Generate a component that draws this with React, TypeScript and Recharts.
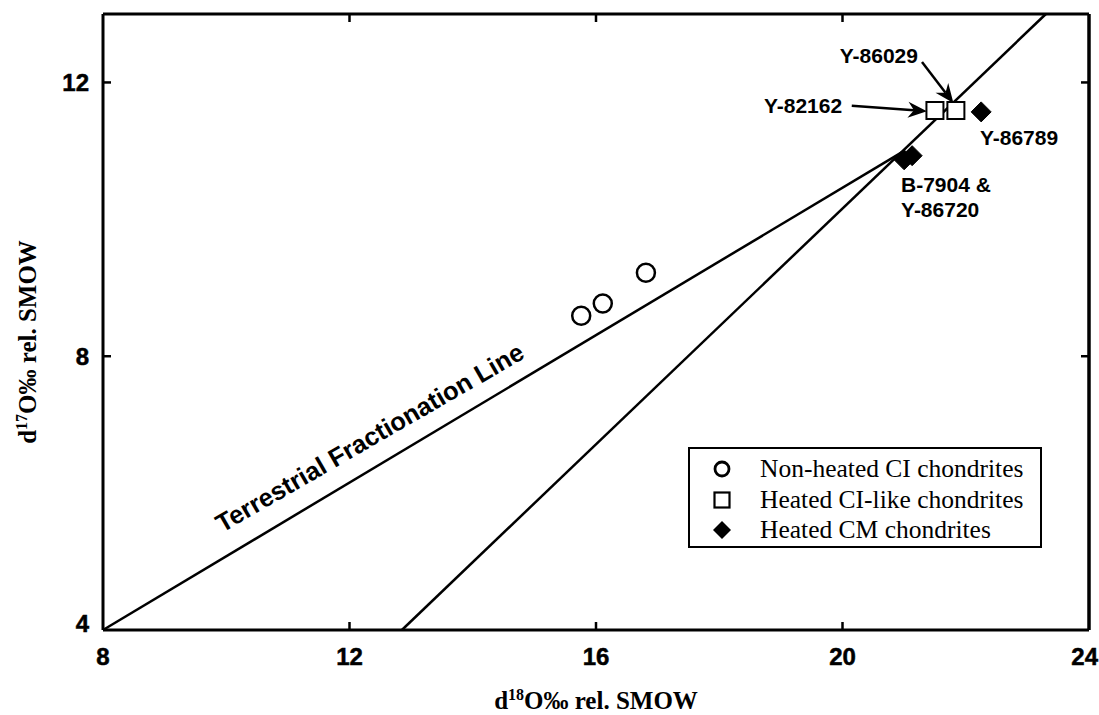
import React from 'react';
import { ScatterChart, Scatter, XAxis, YAxis, ReferenceLine } from 'recharts';

const xTicks = [8, 12, 16, 20, 24];
const yTicks = [4, 8, 12];
const xInnerTicks = [12, 16, 20];
const yInnerTicks = [8, 12];

const nonHeatedCI = [
  { x: 15.76, y: 8.59 },
  { x: 16.11, y: 8.77 },
  { x: 16.81, y: 9.22 },
];
const heatedCILike = [
  { x: 21.5, y: 11.59 },
  { x: 21.84, y: 11.59 },
];
const heatedCM = [
  { x: 21.0, y: 10.87 },
  { x: 21.13, y: 10.93 },
  { x: 22.25, y: 11.57 },
];

const tflLine = [
  { x: 8, y: 4 },
  { x: 21.0, y: 11.0 },
];
const steepLine = [
  { x: 12.85, y: 4 },
  { x: 23.3, y: 13 },
];

const sampleLabels = [
  { x: 20.59, y: 12.39, text: 'Y-86029', anchor: 'middle' },
  { x: 19.36, y: 11.66, text: 'Y-82162', anchor: 'middle' },
  { x: 22.23, y: 11.19, text: 'Y-86789', anchor: 'start' },
  { x: 20.95, y: 10.51, text: 'B-7904 &', anchor: 'start' },
  { x: 20.95, y: 10.14, text: 'Y-86720', anchor: 'start' },
];

const arrows = [
  { from: { x: 21.29, y: 12.3 }, to: { x: 21.8, y: 11.7 } },
  { from: { x: 20.15, y: 11.66 }, to: { x: 21.37, y: 11.58 } },
];

const tflLabel = [{ x: 12.4, y: 6.7, text: 'Terrestrial Fractionation Line' }];

const legendItems = [
  { name: 'Non-heated CI chondrites', marker: 'circle' },
  { name: 'Heated CI-like chondrites', marker: 'square' },
  { name: 'Heated CM chondrites', marker: 'diamond' },
];

const SANS = '"Liberation Sans", Arial, sans-serif';
const SERIF = '"Liberation Serif", "Times New Roman", serif';

const BottomTick = (props: any) => {
  const { x, y, payload } = props;
  const v = payload.value;
  const isLast = v === xTicks[xTicks.length - 1];
  return (
    <g>
      {xInnerTicks.includes(v) && (
        <line x1={x} x2={x} y1={y} y2={y - 8} stroke="#000" strokeWidth={2.5} />
      )}
      <text
        x={isLast ? x + 9 : x}
        y={y + 35}
        textAnchor={isLast ? 'end' : 'middle'}
        fontFamily={SANS}
        fontWeight="bold"
        fontSize={24}
        fill="#000"
        stroke="#000"
        strokeWidth={0.5}
      >
        {v}
      </text>
    </g>
  );
};

const TopTick = (props: any) => {
  const { x, y, payload } = props;
  if (!xInnerTicks.includes(payload.value)) return <g />;
  return <line x1={x} x2={x} y1={y} y2={y + 8} stroke="#000" strokeWidth={2.5} />;
};

const LeftTick = (props: any) => {
  const { x, y, payload } = props;
  const v = payload.value;
  const dy = v === 4 ? -7 : 0;
  return (
    <g>
      {yInnerTicks.includes(v) && (
        <line x1={x} x2={x + 8} y1={y} y2={y} stroke="#000" strokeWidth={2.5} />
      )}
      <text
        x={x - 14}
        y={y + dy + 8.5}
        textAnchor="end"
        fontFamily={SANS}
        fontWeight="bold"
        fontSize={24}
        fill="#000"
        stroke="#000"
        strokeWidth={0.5}
      >
        {v}
      </text>
    </g>
  );
};

const RightTick = (props: any) => {
  const { x, y, payload } = props;
  if (!yInnerTicks.includes(payload.value)) return <g />;
  return <line x1={x} x2={x - 8} y1={y} y2={y} stroke="#000" strokeWidth={2.5} />;
};

const CircleShape = (p: any) => (
  <circle cx={p.cx} cy={p.cy} r={9} fill="#fff" stroke="#000" strokeWidth={2.5} />
);
const SquareShape = (p: any) => (
  <rect x={p.cx - 8.5} y={p.cy - 8.5} width={17} height={17} fill="#fff" stroke="#000" strokeWidth={2} />
);
const DiamondShape = (p: any) => (
  <polygon
    points={`${p.cx},${p.cy - 10} ${p.cx + 10},${p.cy} ${p.cx},${p.cy + 10} ${p.cx - 10},${p.cy}`}
    fill="#000"
    stroke="#000"
    strokeWidth={1}
  />
);

const LabelShape = (p: any) => (
  <text
    x={p.cx}
    y={p.cy}
    textAnchor={p.payload.anchor}
    dominantBaseline="central"
    fontFamily={SANS}
    fontWeight="bold"
    fontSize={21}
    fill="#000"
  >
    {p.payload.text}
  </text>
);

const TflLabelShape = (p: any) => (
  <text
    x={p.cx}
    y={p.cy}
    textAnchor="middle"
    transform={`rotate(-30, ${p.cx}, ${p.cy})`}
    fontFamily={SANS}
    fontWeight="bold"
    fontSize={25.5}
    fill="#000"
  >
    {p.payload.text}
  </text>
);

const ArrowShape = (p: any) => {
  const { x1, y1, x2, y2 } = p;
  const dx = x2 - x1;
  const dy = y2 - y1;
  const len = Math.sqrt(dx * dx + dy * dy) || 1;
  const ux = dx / len;
  const uy = dy / len;
  const nx = -uy;
  const ny = ux;
  const L = 19;
  const W = 8;
  const bx = x2 - ux * L;
  const by = y2 - uy * L;
  const mx = x2 - ux * (L - 6);
  const my = y2 - uy * (L - 6);
  return (
    <g>
      <line x1={x1} y1={y1} x2={mx} y2={my} stroke="#000" strokeWidth={2.5} />
      <polygon
        points={`${x2},${y2} ${bx + nx * W},${by + ny * W} ${mx},${my} ${bx - nx * W},${by - ny * W}`}
        fill="#000"
      />
    </g>
  );
};

const XTitle = (props: any) => {
  const vb = props.viewBox || { x: 103, y: 630, width: 986 };
  return (
    <text x={vb.x + vb.width / 2} y={vb.y + 79} textAnchor="middle" fontFamily={SERIF} fontWeight="bold" fontSize={25} fill="#000">
      d<tspan fontSize={16} dy={-9}>18</tspan>
      <tspan dy={9}>O‰ rel. SMOW</tspan>
    </text>
  );
};

const YTitle = (props: any) => {
  const vb = props.viewBox || { x: 103, y: 14, height: 616 };
  const cx = vb.x - 66;
  const cy = vb.y + vb.height / 2 + 20;
  return (
    <text
      x={cx}
      y={cy}
      textAnchor="middle"
      transform={`rotate(-90, ${cx}, ${cy})`}
      fontFamily={SERIF}
      fontWeight="bold"
      fontSize={25}
      fill="#000"
    >
      d<tspan fontSize={16} dy={-9}>17</tspan>
      <tspan dy={9}>O‰ rel. SMOW</tspan>
    </text>
  );
};

const LegendMarker = ({ kind }: { kind: string }) => (
  <svg width={24} height={24} style={{ display: 'block' }}>
    {kind === 'circle' && <circle cx={12} cy={12} r={7} fill="#fff" stroke="#000" strokeWidth={2.8} />}
    {kind === 'square' && <rect x={4.5} y={4.5} width={15} height={15} fill="#fff" stroke="#000" strokeWidth={2.2} />}
    {kind === 'diamond' && <polygon points="12,3 21,12 12,21 3,12" fill="#000" />}
  </svg>
);

export default function App() {
  return (
    <div style={{ position: 'absolute', left: 0, top: 0, width: 1099, height: 715, background: '#fff' }}>
      <ScatterChart width={1099} height={715} margin={{ top: 13, right: 9, bottom: 84, left: 102 }}>
        <XAxis
          xAxisId={0}
          type="number"
          dataKey="x"
          domain={[8, 24]}
          ticks={xTicks}
          allowDataOverflow
          height={1}
          tickSize={0}
          tickMargin={0}
          tickLine={false}
          axisLine={{ stroke: '#000', strokeWidth: 3 }}
          tick={<BottomTick />}
          interval={0}
          label={{ content: <XTitle /> }}
        />
        <XAxis
          xAxisId="top"
          orientation="top"
          type="number"
          dataKey="x"
          domain={[8, 24]}
          ticks={xTicks}
          allowDataOverflow
          height={1}
          tickSize={0}
          tickMargin={0}
          tickLine={false}
          axisLine={{ stroke: '#000', strokeWidth: 3 }}
          tick={<TopTick />}
          interval={0}
        />
        <YAxis
          yAxisId={0}
          type="number"
          dataKey="y"
          domain={[4, 13]}
          ticks={yTicks}
          allowDataOverflow
          width={1}
          tickSize={0}
          tickMargin={0}
          tickLine={false}
          axisLine={{ stroke: '#000', strokeWidth: 3 }}
          tick={<LeftTick />}
          interval={0}
          label={{ content: <YTitle /> }}
        />
        <YAxis
          yAxisId="right"
          orientation="right"
          type="number"
          dataKey="y"
          domain={[4, 13]}
          ticks={yTicks}
          allowDataOverflow
          width={1}
          tickSize={0}
          tickMargin={0}
          tickLine={false}
          axisLine={{ stroke: '#000', strokeWidth: 3.5 }}
          tick={<RightTick />}
          interval={0}
        />
        <ReferenceLine segment={tflLine} stroke="#000" strokeWidth={2.5} ifOverflow="visible" />
        <ReferenceLine segment={steepLine} stroke="#000" strokeWidth={2.5} ifOverflow="visible" />
        {arrows.map((a, i) => (
          <ReferenceLine
            key={i}
            segment={[a.from, a.to]}
            stroke="#000"
            strokeWidth={2.5}
            ifOverflow="visible"
            shape={ArrowShape}
          />
        ))}
        <Scatter name="Non-heated CI chondrites" data={nonHeatedCI} shape={CircleShape} isAnimationActive={false} />
        <Scatter name="Heated CI-like chondrites" data={heatedCILike} shape={SquareShape} isAnimationActive={false} />
        <Scatter name="Heated CM chondrites" data={heatedCM} shape={DiamondShape} isAnimationActive={false} />
        <Scatter name="labels" data={sampleLabels} shape={LabelShape} isAnimationActive={false} legendType="none" />
        <Scatter name="tfl" data={tflLabel} shape={TflLabelShape} isAnimationActive={false} legendType="none" />
      </ScatterChart>
      <div
        style={{
          position: 'absolute',
          left: 688,
          top: 447,
          width: 354,
          height: 101,
          boxSizing: 'border-box',
          border: '2.5px solid #000',
          background: '#fff',
        }}
      >
        {legendItems.map((it, i) => (
          <div
            key={it.name}
            style={{
              position: 'absolute',
              left: 20,
              top: 8 + i * 30.5,
              height: 24,
              display: 'flex',
              alignItems: 'center',
            }}
          >
            <LegendMarker kind={it.marker} />
            <span
              style={{
                marginLeft: 26,
                fontFamily: SERIF,
                fontSize: 25.5,
                lineHeight: '24px',
                color: '#000',
                whiteSpace: 'nowrap',
              }}
            >
              {it.name}
            </span>
          </div>
        ))}
      </div>
    </div>
  );
}
